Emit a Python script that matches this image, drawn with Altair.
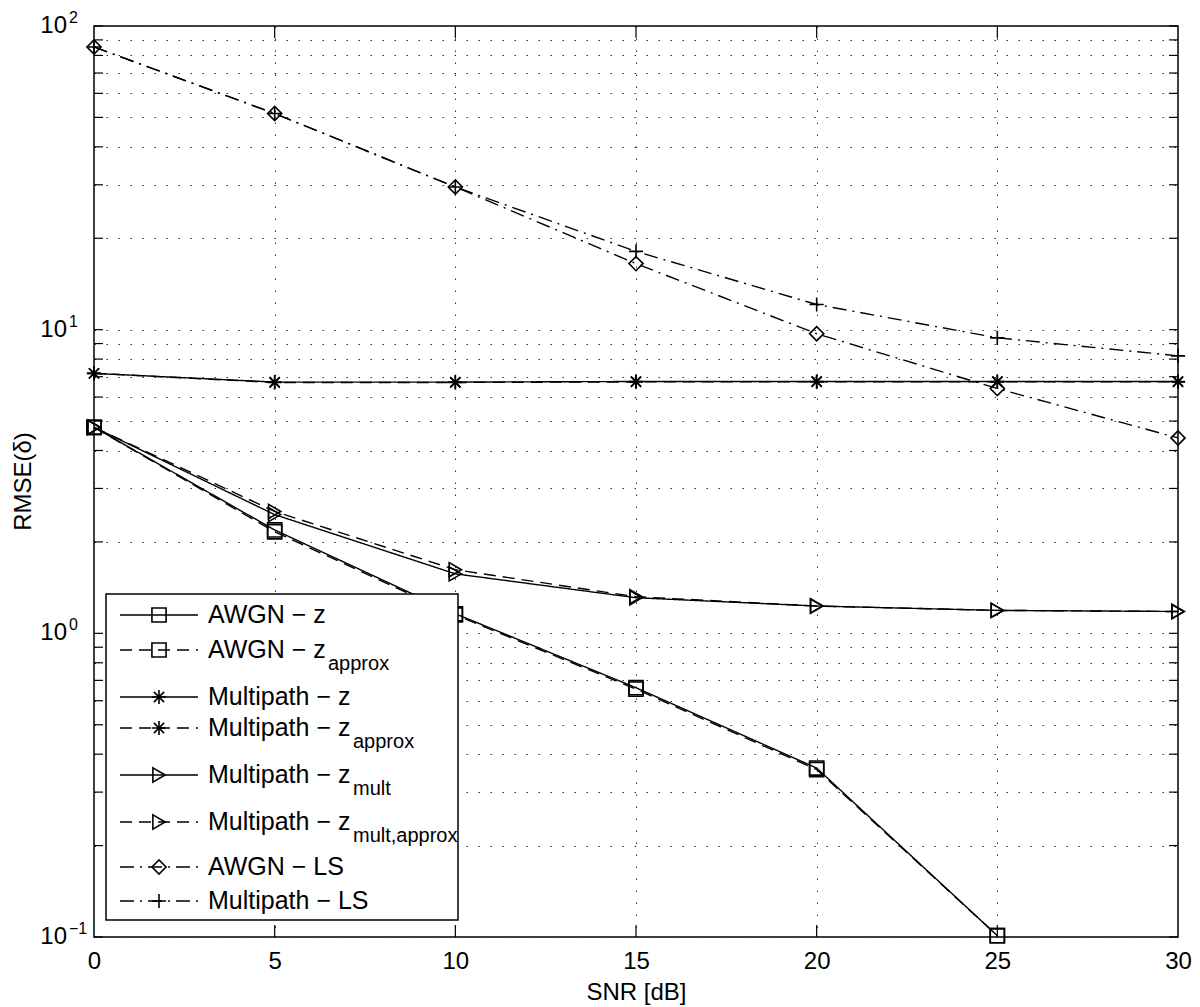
import altair as alt
import pandas as pd

# ---------------- data ----------------
snr = [0, 5, 10, 15, 20, 25, 30]
awgn_z = [4.77, 2.19, 1.16, 0.662, 0.360, 0.101]
awgn_z_approx = [4.77, 2.16, 1.15, 0.655, 0.356, 0.101]
mp_z = [7.18, 6.72, 6.72, 6.75, 6.75, 6.75, 6.75]
mp_z_approx = [7.18, 6.70, 6.70, 6.73, 6.73, 6.73, 6.73]
mp_zmult = [4.77, 2.46, 1.57, 1.31, 1.23, 1.19, 1.18]
mp_zmult_approx = [4.77, 2.52, 1.62, 1.32, 1.23, 1.19, 1.18]
awgn_ls = [85.3, 51.5, 29.5, 16.5, 9.7, 6.4, 4.4]
mp_ls = [85.3, 51.5, 29.5, 18.1, 12.1, 9.4, 8.2]

series_keys = ["awgn_z", "awgn_z_approx", "mp_z", "mp_z_approx",
               "mp_zmult", "mp_zmult_approx", "awgn_ls", "mp_ls"]
series_vals = [awgn_z, awgn_z_approx, mp_z, mp_z_approx,
               mp_zmult, mp_zmult_approx, awgn_ls, mp_ls]
legend_main = ["AWGN − z", "AWGN − z", "Multipath − z", "Multipath − z",
               "Multipath − z", "Multipath − z", "AWGN − LS", "Multipath − LS"]
legend_sub = ["", "approx", "", "approx", "mult", "mult,approx", "", ""]

x_ticks = [0, 5, 10, 15, 20, 25, 30]
decades = [0.1, 1, 10, 100]
decade_exp = ["−1", "0", "1", "2"]
y_grid = [m * d for d in [0.1, 1, 10] for m in range(1, 10)] + [100]

# ---------------- styles / layout ----------------
LEFT, TOP, RIGHT, BOTTOM = 86, 18, 14, 68
W, H = 1084, 911
SOLID, DASH, DASHDOT = [1, 0], [12, 7], [14, 6, 2, 6]
dash_range = [SOLID, DASH, SOLID, DASH, SOLID, DASH, DASHDOT, DASHDOT]
STAR = "M-1,0L1,0M0,-1L0,1M-0.72,-0.72L0.72,0.72M-0.72,0.72L0.72,-0.72"
PLUS = "M-1,0L1,0M0,-1L0,1"
shape_range = ["square", "square", STAR, STAR, "triangle-right",
               "triangle-right", "diamond", PLUS]
size_range = [200, 200, 130, 130, 210, 210, 240, 160]
# legend rows, relative to the plot's top-left corner
leg_row_y = [589, 624, 671, 702, 749, 796, 841, 875]
leg_sub_x = [0, 234, 0, 259, 259, 259, 0, 0]
FONT = "Liberation Sans"

rows = []
for k, vals in zip(series_keys, series_vals):
    for xv, yv in zip(snr, vals):
        rows.append({"series": k, "snr": xv, "value": yv})
df = pd.DataFrame(rows)

leg = pd.DataFrame({"series": series_keys, "main": legend_main, "sub": legend_sub,
                    "ly": leg_row_y, "sx": leg_sub_x})
leg_sub = leg[leg["sub"] != ""]

xscale = alt.Scale(domain=[0, 30], nice=False, zero=False)
yscale = alt.Scale(type="log", domain=[0.1, 100], nice=False)
dash_enc = alt.StrokeDash("series:N", scale=alt.Scale(domain=series_keys, range=dash_range), legend=None)
shape_enc = alt.Shape("series:N", scale=alt.Scale(domain=series_keys, range=shape_range), legend=None)
size_enc = alt.Size("series:N", scale=alt.Scale(domain=series_keys, range=size_range), legend=None)

X = alt.X("snr:Q", scale=xscale,
          axis=alt.Axis(values=x_ticks, grid=True, ticks=False, domain=False,
                        labelFontSize=24, labelPadding=12, labelColor="black",
                        labelFont=FONT, labelFlush=False, title="SNR [dB]", titleFontSize=24,
                        titleFont=FONT, titleFontWeight="normal", titleColor="black",
                        titlePadding=7, gridColor="#333", gridDash=[1.5, 10.5],
                        gridWidth=1, gridOpacity=1))
Y = alt.Y("value:Q", scale=yscale,
          axis=alt.Axis(values=y_grid, grid=True, ticks=False, domain=False,
                        labels=False, title=None, gridColor="#333",
                        gridDash=[1.5, 10.5], gridWidth=1, gridOpacity=1))
Xs = alt.X("snr:Q", scale=xscale)
Ys = alt.Y("value:Q", scale=yscale)

lines = alt.Chart(df).mark_line(color="black", strokeWidth=1.4).encode(
    x=X, y=Y, strokeDash=dash_enc, detail="series:N")

points = alt.Chart(df).mark_point(filled=False, color="black", strokeWidth=1.6, opacity=1).encode(
    x=Xs, y=Ys, shape=shape_enc, size=size_enc)

# inward tick marks (box on)
yt = pd.DataFrame({"value": y_grid})
xt = pd.DataFrame({"snr": x_ticks[1:-1]})
ytick_l = alt.Chart(yt).mark_rule(color="black", strokeWidth=1.2).encode(
    y=Ys, x=alt.value(0), x2=alt.value(9))
ytick_r = alt.Chart(yt).mark_rule(color="black", strokeWidth=1.2).encode(
    y=Ys, x=alt.value(W - 9), x2=alt.value(W))
xtick_b = alt.Chart(xt).mark_rule(color="black", strokeWidth=1.2).encode(
    x=Xs, y=alt.value(H - 12), y2=alt.value(H))
xtick_t = alt.Chart(xt).mark_rule(color="black", strokeWidth=1.2).encode(
    x=Xs, y=alt.value(0), y2=alt.value(12))

# y tick labels 10^k
dec = pd.DataFrame({"value": decades, "exp": decade_exp})
ylab = alt.Chart(dec).mark_text(align="right", baseline="middle", fontSize=24, font=FONT,
                                color="black", text="10").encode(
    y=Ys, x=alt.value(-27))
yexp = alt.Chart(dec).mark_text(align="left", baseline="middle", fontSize=16, font=FONT,
                                color="black", dy=-8).encode(
    y=Ys, x=alt.value(-25), text="exp:N")
ytitle = alt.Chart(pd.DataFrame({"t": ["RMSE(δ)"]})).mark_text(
    angle=270, fontSize=24, font=FONT, color="black", baseline="middle", align="center").encode(
    x=alt.value(-70), y=alt.value(H / 2), text="t:N")

# custom legend
box = alt.Chart(pd.DataFrame({"a": [0]})).mark_rect(fill="white", stroke="black", strokeWidth=1.5).encode(
    x=alt.value(12), x2=alt.value(364), y=alt.value(568), y2=alt.value(894))
leg_line = alt.Chart(leg).mark_rule(color="black", strokeWidth=1.4).encode(
    y=alt.Y("ly:Q", scale=None), x=alt.value(26), x2=alt.value(104), strokeDash=dash_enc)
leg_pt = alt.Chart(leg).mark_point(filled=False, color="black", strokeWidth=1.6, opacity=1).encode(
    y=alt.Y("ly:Q", scale=None), x=alt.value(65), shape=shape_enc, size=size_enc)
leg_txt = alt.Chart(leg).mark_text(align="left", baseline="middle", fontSize=25, font=FONT,
                                   color="black").encode(
    y=alt.Y("ly:Q", scale=None), x=alt.value(114), text="main:N")
leg_subtxt = alt.Chart(leg_sub).mark_text(align="left", baseline="middle", fontSize=20, font=FONT,
                                          color="black", dy=14).encode(
    y=alt.Y("ly:Q", scale=None), x=alt.X("sx:Q", scale=None), text="sub:N")

chart = alt.layer(
    lines, points, ytick_l, ytick_r, xtick_b, xtick_t, ylab, yexp, ytitle,
    box, leg_line, leg_pt, leg_txt, leg_subtxt,
).properties(
    width=W, height=H,
    padding={"left": LEFT, "top": TOP, "right": RIGHT, "bottom": BOTTOM},
    autosize=alt.AutoSizeParams(type="none"),
).configure(font=FONT).configure_view(stroke="black", strokeWidth=1.5)

chart.save("out.html", embed_options={"renderer": "svg", "actions": False})
